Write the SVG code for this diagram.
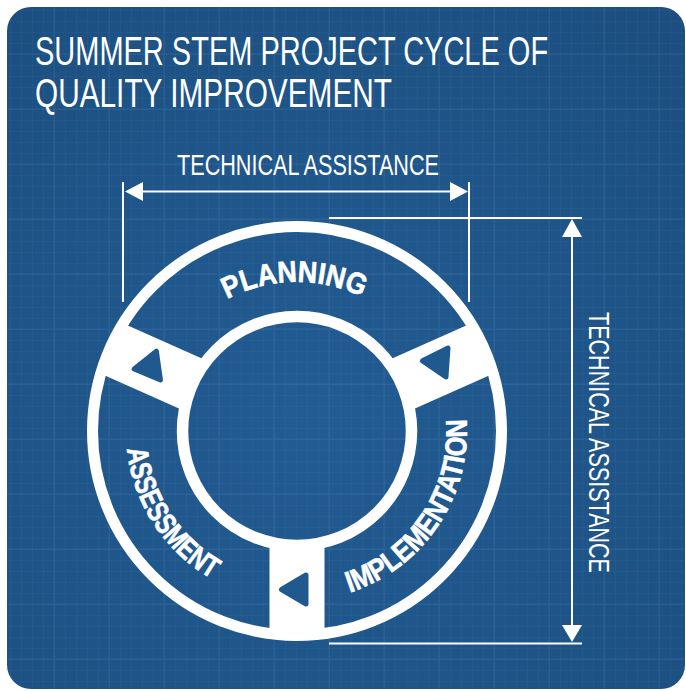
<svg xmlns="http://www.w3.org/2000/svg" width="686" height="691" viewBox="0 0 686 691">
<defs>
<radialGradient id="bg" cx="0.45" cy="0.6" r="0.8">
<stop offset="0" stop-color="#225c93"/>
<stop offset="1" stop-color="#1c4e7f"/>
</radialGradient>
<pattern id="gridMinor" width="11" height="11" patternUnits="userSpaceOnUse">
<path d="M10.5 0V11M0 10.5H11" stroke="#7ab0e0" stroke-width="1" opacity="0.05" fill="none"/>
</pattern>
<pattern id="gridMajor" width="55" height="55" patternUnits="userSpaceOnUse">
<path d="M54 0V55M0 54H55" stroke="#86bbe8" stroke-width="2" opacity="0.06" fill="none"/>
</pattern>
<path id="arcPlanning" d="M156.1 382.5 A149 149 0 0 1 436.1 377.6"/>
<path id="arcAssessment" d="M136.3 372.5 A171 171 0 0 0 285.1 601.6"/>
<path id="arcImplementation" d="M314.8 600.1 A170 170 0 0 0 460.4 384.1"/>
<polygon id="tri" points="-16.5,0 8,-14.5 8,14.5"/>
<rect id="spoke" x="112" y="-27.5" width="91" height="55"/>
</defs>
<style>
.title{font-family:"Liberation Sans",Arial,sans-serif;font-size:40px;fill:#fff}
.dimtxt{font-family:"Liberation Sans",Arial,sans-serif;font-size:29px;fill:#fff}
.seg{font-family:"Liberation Sans",Arial,sans-serif;font-weight:700;font-size:30px;fill:#fff;stroke:#fff;stroke-width:0.6}
.ln{stroke:#fff;stroke-width:2;fill:none}
.head{fill:#fff}
.tri{fill:#20598d;stroke:#20598d;stroke-width:5;stroke-linejoin:round}
.ring{fill:none;stroke:#fff}
</style>
<g id="background">
<rect x="7" y="7" width="678" height="682" rx="24" fill="url(#bg)"/>
<rect x="7" y="7" width="678" height="682" rx="24" fill="url(#gridMinor)"/>
<rect x="7" y="7" width="678" height="682" rx="24" fill="url(#gridMajor)"/>
</g>
<g id="title">
<text class="title" transform="translate(35 65) scale(0.7 1)" x="0" y="0" textLength="733" lengthAdjust="spacingAndGlyphs">SUMMER STEM PROJECT CYCLE OF</text>
<text class="title" transform="translate(35 107) scale(0.7 1)" x="0" y="0" textLength="510" lengthAdjust="spacingAndGlyphs">QUALITY IMPROVEMENT</text>
</g>
<g id="cycle">
<circle class="ring" cx="297" cy="431" r="204.5" stroke-width="11"/>
<circle class="ring" cx="297" cy="431" r="114.5" stroke-width="11.5"/>
<g fill="#fff" transform="translate(297 431)">
<use href="#spoke" transform="rotate(90)"/>
<use href="#spoke" transform="rotate(204)"/>
<use href="#spoke" transform="rotate(-24)"/>
</g>
<use href="#tri" class="tri" transform="translate(298 589.5)"/>
<use href="#tri" class="tri" transform="translate(150.5 366.7) rotate(-8)"/>
<use href="#tri" class="tri" transform="translate(439 362) rotate(4)"/>
</g>
<g id="node-planning">
<text class="seg"><textPath href="#arcPlanning" startOffset="50%" text-anchor="middle" textLength="140" lengthAdjust="spacingAndGlyphs">PLANNING</textPath></text>
</g>
<g id="node-implementation">
<text class="seg"><textPath href="#arcImplementation" startOffset="50%" text-anchor="middle" textLength="225" lengthAdjust="spacingAndGlyphs">IMPLEMENTATION</textPath></text>
</g>
<g id="node-assessment">
<text class="seg"><textPath href="#arcAssessment" startOffset="50%" text-anchor="middle" textLength="161" lengthAdjust="spacingAndGlyphs">ASSESSMENT</textPath></text>
</g>
<g id="connectors">
<line class="ln" x1="123" y1="182" x2="123" y2="302"/>
<line class="ln" x1="469" y1="182" x2="469" y2="302"/>
<line class="ln" x1="135" y1="191.5" x2="458" y2="191.5"/>
<polygon class="head" points="125,191.5 143,182 143,201"/>
<polygon class="head" points="468,191.5 450,182 450,201"/>
<line class="ln" x1="329" y1="218" x2="582" y2="218"/>
<line class="ln" x1="329" y1="643.5" x2="582" y2="643.5"/>
<line class="ln" x1="572" y1="230" x2="572" y2="632"/>
<polygon class="head" points="572,219 562,237 582,237"/>
<polygon class="head" points="572,642 562,625 582,625"/>
</g>
<g id="labels">
<text class="dimtxt" x="177" y="175" textLength="262" lengthAdjust="spacingAndGlyphs">TECHNICAL ASSISTANCE</text>
<text class="dimtxt" transform="translate(589 312) rotate(90)" x="0" y="0" textLength="261" lengthAdjust="spacingAndGlyphs">TECHNICAL ASSISTANCE</text>
</g>
</svg>
